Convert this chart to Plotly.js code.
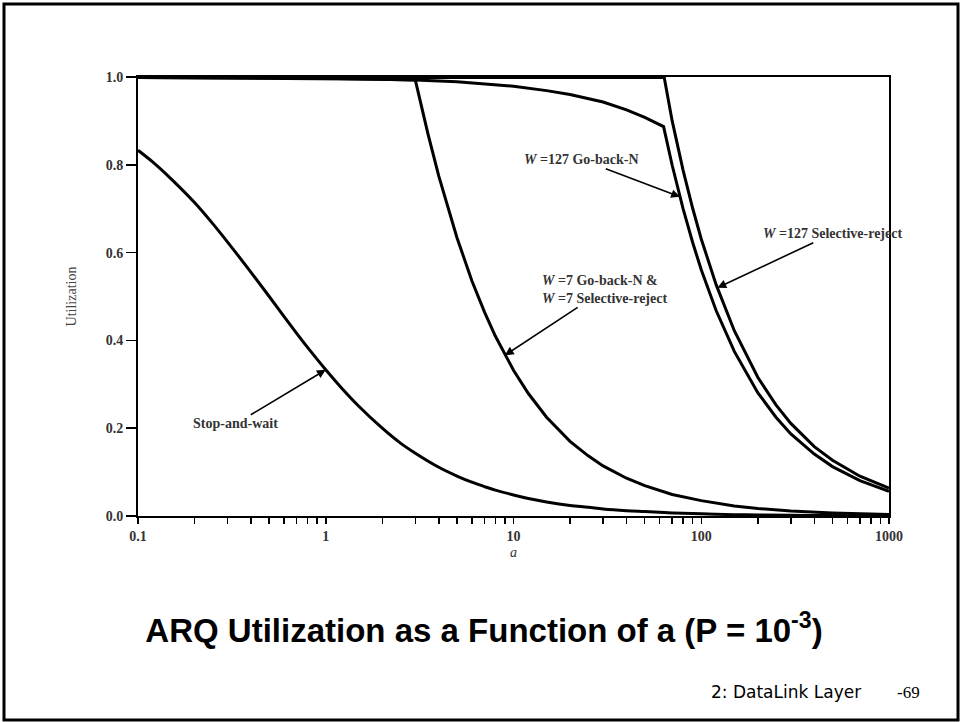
<!DOCTYPE html>
<html>
<head>
<meta charset="utf-8">
<script src="https://cdn.plot.ly/plotly-3.0.1.min.js"></script>
<style>
  html, body { margin: 0; padding: 0; background: #ffffff; }
  #chart { width: 961px; height: 722px; }
</style>
</head>
<body>
<div id="chart"></div>
<script>
// ---- Data (a on log scale, utilization U) ----
const aStop = [0.1, 0.12, 0.15, 0.2, 0.25, 0.3, 0.4, 0.5, 0.6, 0.7, 0.8, 1, 1.2, 1.5, 2, 2.5, 3, 4, 5, 6, 7, 8, 10, 12, 15, 20, 25, 30, 40, 50, 70, 100, 150, 200, 300, 500, 700, 1000];
const uStop = [0.833, 0.806, 0.768, 0.714, 0.666, 0.624, 0.555, 0.500, 0.454, 0.416, 0.384, 0.333, 0.294, 0.250, 0.200, 0.166, 0.143, 0.111, 0.091, 0.077, 0.067, 0.059, 0.048, 0.040, 0.032, 0.024, 0.020, 0.016, 0.012, 0.010, 0.007, 0.005, 0.003, 0.0025, 0.0017, 0.001, 0.0007, 0.0005];

const aW7 = [0.1, 0.3, 1, 2, 3, 3.5, 4, 5, 6, 7, 8, 10, 12, 15, 20, 25, 30, 40, 50, 70, 100, 150, 200, 300, 500, 700, 1000];
const uW7 = [0.999, 0.998, 0.997, 0.995, 0.993, 0.871, 0.774, 0.634, 0.536, 0.465, 0.410, 0.332, 0.279, 0.225, 0.170, 0.137, 0.114, 0.086, 0.069, 0.049, 0.035, 0.023, 0.017, 0.0116, 0.007, 0.005, 0.0035];

const aGBN127 = [0.1, 1, 3, 5, 10, 15, 20, 30, 40, 50, 63, 70, 80, 90, 100, 120, 150, 200, 250, 300, 400, 500, 700, 1000];
const uGBN127 = [0.999, 0.997, 0.993, 0.989, 0.979, 0.969, 0.960, 0.943, 0.925, 0.908, 0.887, 0.799, 0.700, 0.623, 0.561, 0.468, 0.375, 0.281, 0.225, 0.187, 0.141, 0.1125, 0.0805, 0.0563];

const aSR127 = [0.1, 63.5, 70, 80, 90, 100, 120, 150, 200, 250, 300, 400, 500, 700, 1000];
const uSR127 = [0.999, 0.999, 0.900, 0.788, 0.701, 0.631, 0.527, 0.422, 0.316, 0.253, 0.211, 0.158, 0.127, 0.0906, 0.0634];

const xTickVals = [0.1, 1, 10, 100, 1000];
const xTickText = ['0.1', '1', '10', '100', '1000'];
const yTickVals = [0, 0.2, 0.4, 0.6, 0.8, 1.0];
const yTickText = ['0.0', '0.2', '0.4', '0.6', '0.8', '1.0'];

const labelStop = '<b>Stop-and-wait</b>';
const labelW7 = '<b><i>W</i> =7 Go-back-N &amp;<br><i>W</i> =7 Selective-reject</b>';
const labelGBN127 = '<b><i>W</i> =127 Go-back-N</b>';
const labelSR127 = '<b><i>W</i> =127 Selective-reject</b>';
const chartTitle = '<b>ARQ Utilization as a Function of a (P = 10<sup>-3</sup>)</b>';
const footerText = '2: DataLink Layer';
const pageText = '-69';

// ---- Layout geometry (pixels) ----
const W = 961, H = 722;
const L = 138, R = 889, T = 77, B = 516;
const pw = R - L, ph = B - T;
const pX = x => (x - L) / pw;
const pY = y => (B - y) / ph;

const minorX = [];
[0.1, 1, 10, 100].forEach(d => { for (let k = 2; k <= 9; k++) minorX.push(+(d * k).toPrecision(3)); });

const lineStyle = { color: '#000000', width: 3 };
const mk = (x, y, shape) => ({ x: x, y: y, type: 'scatter', mode: 'lines', line: Object.assign({ shape: shape }, lineStyle), showlegend: false, hoverinfo: 'skip' });

const traces = [
  mk(aStop, uStop, 'spline'),
  mk(aW7, uW7, 'linear'),
  mk(aGBN127, uGBN127, 'linear'),
  mk(aSR127, uSR127, 'linear')
];

const serif = 'Liberation Serif, Times New Roman, serif';
const labelFont = { family: serif, size: 14, color: '#333333' };
// Each label carries its arrow: x/y = arrow head (data), ax/ay = label centre offset (px)
const arrowLabel = (text, a, u, ax, ay, align) => ({
  xref: 'x', yref: 'y', x: Math.log10(a), y: u, text: text, font: labelFont, align: align || 'center',
  showarrow: true, arrowhead: 2, arrowsize: 1.1, arrowwidth: 1.6, arrowcolor: '#000',
  axref: 'pixel', ayref: 'pixel', ax: ax, ay: ay, standoff: 0, startstandoff: 0
});

const annotations = [
  arrowLabel(labelStop, 1, 0.333, -90, 54),
  arrowLabel(labelW7, 9, 0.366, 100, -66, 'left'),
  arrowLabel(labelGBN127, 77, 0.727, -98, -37),
  arrowLabel(labelSR127, 122, 0.52, 115, -54),
  // footer
  { xref: 'paper', yref: 'paper', x: pX(786), y: pY(692), text: footerText, showarrow: false, font: { family: 'DejaVu Sans, sans-serif', size: 17, color: '#000' }, xanchor: 'center', yanchor: 'middle' },
  { xref: 'paper', yref: 'paper', x: pX(908), y: pY(692), text: pageText, showarrow: false, font: { family: serif, size: 17, color: '#000' }, xanchor: 'center', yanchor: 'middle' }
];

const layout = {
  width: W, height: H,
  margin: { l: L, r: W - R, t: T, b: H - B, pad: 0 },
  paper_bgcolor: '#ffffff', plot_bgcolor: '#ffffff',
  showlegend: false,
  title: {
    text: chartTitle,
    xref: 'container', yref: 'container',
    x: 484 / W, y: 1 - 630 / H, xanchor: 'center', yanchor: 'middle',
    font: { family: 'Liberation Sans, Arial, sans-serif', size: 33, color: '#000' }
  },
  xaxis: {
    type: 'log', range: [-1, 3],
    tickmode: 'array', tickvals: xTickVals, ticktext: xTickText,
    ticks: 'outside', ticklen: 6, tickwidth: 1.5, tickcolor: '#000',
    showline: true, linewidth: 2, linecolor: '#000', mirror: true,
    showgrid: false, zeroline: false,
    tickfont: { family: serif, size: 14, color: '#333333', weight: 'bold' },
    title: { text: '<i>a</i>', font: { family: serif, size: 14, color: '#333333' }, standoff: 4 },
    minor: { tickmode: 'array', tickvals: minorX, ticks: 'outside', ticklen: 6, tickwidth: 1.5, tickcolor: '#000', showgrid: false }
  },
  yaxis: {
    range: [0, 1],
    tickmode: 'array', tickvals: yTickVals, ticktext: yTickText,
    ticks: 'outside', ticklen: 10, tickwidth: 1.5, tickcolor: '#000',
    showline: true, linewidth: 2, linecolor: '#000', mirror: true,
    showgrid: false, zeroline: false,
    tickfont: { family: serif, size: 14, color: '#333333', weight: 'bold' },
    title: { text: 'Utilization', font: { family: serif, size: 14, color: '#444444' }, standoff: 26 }
  },
  annotations: annotations,
  shapes: [
    { type: 'rect', xref: 'paper', yref: 'paper', x0: pX(4), x1: pX(958), y0: pY(720), y1: pY(4), line: { color: '#000', width: 3 }, fillcolor: 'rgba(0,0,0,0)', layer: 'above' }
  ]
};

Plotly.newPlot('chart', traces, layout, { displayModeBar: false, staticPlot: true });
</script>
</body>
</html>
